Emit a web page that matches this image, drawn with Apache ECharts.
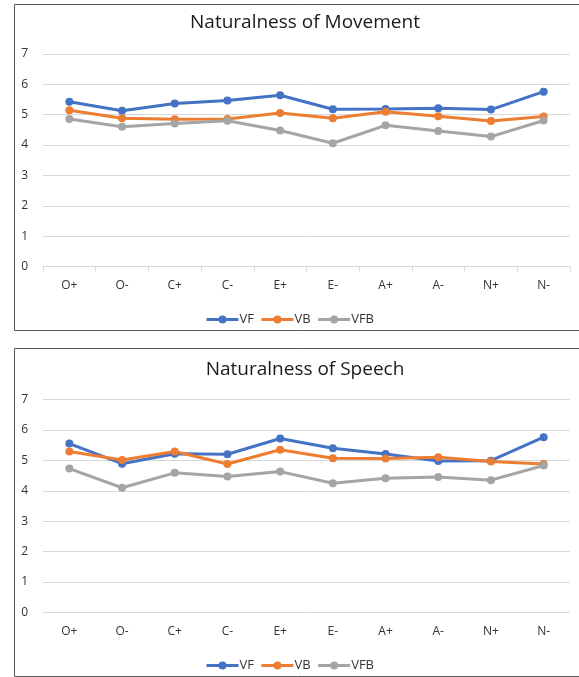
<!DOCTYPE html>
<html>
<head>
<meta charset="utf-8">
<script src="https://cdn.jsdelivr.net/npm/echarts@6/dist/echarts.min.js"></script>
<style>
html,body{margin:0;padding:0;background:#fff;}
#c{width:579px;height:677px;}
</style>
</head>
<body>
<div id="c"></div>
<script>
var categories = ['O+','O-','C+','C-','E+','E-','A+','A-','N+','N-'];
var seriesNames = ['VF','VB','VFB'];
var yTicks = [0,1,2,3,4,5,6,7];

var movementVF  = [5.43,5.13,5.37,5.47,5.64,5.18,5.19,5.21,5.17,5.76];
var movementVB  = [5.15,4.88,4.85,4.86,5.06,4.88,5.10,4.95,4.79,4.94];
var movementVFB = [4.86,4.60,4.71,4.80,4.48,4.06,4.65,4.46,4.28,4.81];

var speechVF  = [5.55,4.89,5.22,5.20,5.72,5.40,5.21,4.98,4.99,5.76];
var speechVB  = [5.29,5.01,5.29,4.88,5.35,5.07,5.06,5.10,4.96,4.88];
var speechVFB = [4.73,4.10,4.59,4.47,4.63,4.25,4.41,4.45,4.35,4.83];

var colors = ['#4472C4','#ED7D31','#A5A5A5'];
var font = 'Open Sans, Lato, sans-serif';

function mkSeries(name, data, idx, color) {
  return {
    name: name, type: 'line', data: data,
    xAxisIndex: idx, yAxisIndex: idx,
    symbol: 'circle', symbolSize: 8,
    lineStyle: {width: 3, color: color},
    itemStyle: {color: color},
    emphasis: {disabled: true},
    z: 10
  };
}

function xAx(idx, ticks) {
  return {
    type: 'category', gridIndex: idx, data: categories, boundaryGap: true,
    axisLine: {show: ticks, lineStyle: {color: '#d9d9d9', width: 1}},
    axisTick: {show: ticks, length: 5, lineStyle: {color: '#d9d9d9'}},
    axisLabel: {color: '#333', fontSize: 12, fontFamily: font, margin: 13}
  };
}
function yAx(idx) {
  return {
    type: 'value', gridIndex: idx, min: yTicks[0], max: yTicks[yTicks.length-1], interval: 1,
    axisLine: {show: false}, axisTick: {show: false},
    axisLabel: {color: '#333', fontSize: 12, fontFamily: font, margin: 15},
    splitLine: {lineStyle: {color: '#d9d9d9', width: 1}}
  };
}

function mkLegend(top) {
  return {data: seriesNames, top: top, left: 'center', itemWidth: 32, itemHeight: 10, itemGap: 6,
    lineStyle: {width: 3},
    textStyle: {color: '#333', fontSize: 13, fontFamily: font, padding: [0,0,0,-4]}};
}

var chart = echarts.init(document.getElementById('c'), null, {renderer: 'canvas'});
chart.setOption({
  animation: false,
  color: colors,
  graphic: [
    {type: 'rect', shape: {x: 14.5, y: 4.5, width: 600, height: 326}, style: {fill: 'none', stroke: '#595959', lineWidth: 1}, z: 0},
    {type: 'rect', shape: {x: 14.5, y: 348.5, width: 600, height: 328}, style: {fill: 'none', stroke: '#595959', lineWidth: 1}, z: 0}
  ],
  title: [
    {text: 'Naturalness of Movement', left: 300, top: 8, textAlign: 'center',
     textStyle: {fontSize: 19, fontWeight: 'normal', color: '#1a1a1a', fontFamily: font}},
    {text: 'Naturalness of Speech', left: 300, top: 355, textAlign: 'center',
     textStyle: {fontSize: 19, fontWeight: 'normal', color: '#1a1a1a', fontFamily: font}}
  ],
  legend: [mkLegend(308), mkLegend(654)],
  grid: [
    {left: 43, right: 9, top: 54, height: 212.5},
    {left: 43, right: 9, top: 399.5, height: 213}
  ],
  xAxis: [xAx(0, true), xAx(1, false)],
  yAxis: [yAx(0), yAx(1)],
  series: [
    mkSeries('VF', movementVF, 0, colors[0]),
    mkSeries('VB', movementVB, 0, colors[1]),
    mkSeries('VFB', movementVFB, 0, colors[2]),
    mkSeries('VF', speechVF, 1, colors[0]),
    mkSeries('VB', speechVB, 1, colors[1]),
    mkSeries('VFB', speechVFB, 1, colors[2])
  ]
});
</script>
</body>
</html>
